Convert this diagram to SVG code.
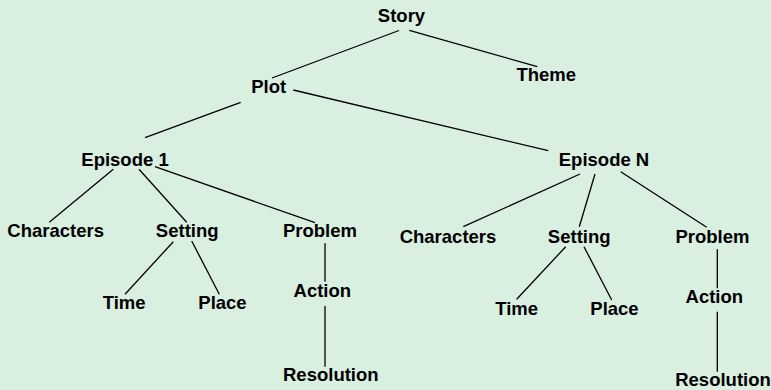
<svg xmlns="http://www.w3.org/2000/svg" width="771" height="390" viewBox="0 0 771 390">
<style>
text{font-family:"Liberation Sans",Arial,sans-serif;font-weight:bold;font-size:18.5px;fill:#000;text-anchor:middle}
.c line{stroke:#000;stroke-width:1.3}
</style>
<rect width="771" height="390" fill="#d9efe0"/>
<g class="c" id="connectors">
<line x1="399" y1="30.5" x2="272" y2="78"/>
<line x1="409.3" y1="30.3" x2="537.3" y2="66.7"/>
<line x1="240.7" y1="102.3" x2="145" y2="137.7"/>
<line x1="293.3" y1="90" x2="548.3" y2="150.7"/>
<line x1="113.3" y1="169.3" x2="49.3" y2="222.3"/>
<line x1="139" y1="169.3" x2="186.7" y2="222.3"/>
<line x1="155" y1="166.7" x2="315" y2="222.7"/>
<line x1="173.3" y1="241.7" x2="125" y2="294.3"/>
<line x1="191.7" y1="241" x2="219.3" y2="294.3"/>
<line x1="325" y1="243.3" x2="325" y2="281.7"/>
<line x1="325" y1="306" x2="325" y2="366.7"/>
<line x1="580" y1="174" x2="463.3" y2="226.7"/>
<line x1="595" y1="174" x2="579.3" y2="226.7"/>
<line x1="620.7" y1="171.7" x2="706.7" y2="227.3"/>
<line x1="565.7" y1="246.7" x2="516.7" y2="299.3"/>
<line x1="584" y1="246.7" x2="611.7" y2="300"/>
<line x1="717.3" y1="249.3" x2="717.3" y2="288.3"/>
<line x1="717.3" y1="311.7" x2="717.3" y2="371.7"/>
</g>
<g id="story"><text x="401.5" y="21.5">Story</text></g>
<g id="plot"><text x="268.7" y="93">Plot</text></g>
<g id="theme"><text x="546.2" y="81">Theme</text></g>
<g id="episode1"><text x="125" y="165.7">Episode 1</text></g>
<g id="episodeN"><text x="604" y="165.7">Episode N</text></g>
<g id="characters1"><text x="55.7" y="237">Characters</text></g>
<g id="setting1"><text x="187.2" y="237">Setting</text></g>
<g id="problem1"><text x="320" y="237">Problem</text></g>
<g id="time1"><text x="124.2" y="309.3">Time</text></g>
<g id="place1"><text x="222.5" y="309.3">Place</text></g>
<g id="action1"><text x="322.3" y="297.3">Action</text></g>
<g id="resolution1"><text x="330.8" y="381">Resolution</text></g>
<g id="charactersN"><text x="448" y="243.3">Characters</text></g>
<g id="settingN"><text x="579.2" y="243.3">Setting</text></g>
<g id="problemN"><text x="712.5" y="243.3">Problem</text></g>
<g id="timeN"><text x="516.7" y="315.3">Time</text></g>
<g id="placeN"><text x="614.5" y="315.3">Place</text></g>
<g id="actionN"><text x="714.3" y="303.3">Action</text></g>
<g id="resolutionN"><text x="723" y="386">Resolution</text></g>
</svg>
